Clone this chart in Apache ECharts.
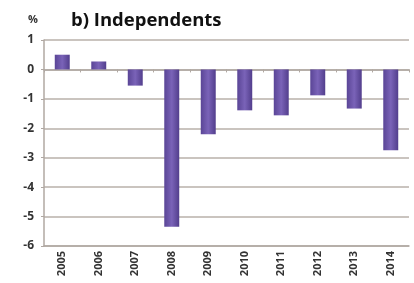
<!DOCTYPE html>
<html><head><meta charset="utf-8">
<script src="https://cdn.jsdelivr.net/npm/echarts@6/dist/echarts.min.js"></script>
<style>html,body{margin:0;padding:0;background:#fff}#c{width:414px;height:283px}</style>
</head><body><div id="c"></div>
<script>
var categories = ['2005','2006','2007','2008','2009','2010','2011','2012','2013','2014'];
var values = [0.5, 0.27, -0.55, -5.35, -2.2, -1.39, -1.56, -0.88, -1.33, -2.75];
var yTicks = {min: -6, max: 1, step: 1};
var titleText = 'b) Independents';
var unitText = '%';

var chart = echarts.init(document.getElementById('c'));
chart.setOption({
  animation: false,
  backgroundColor: '#fff',
  title: [
    {text: titleText, left: 66, top: 6, textStyle: {fontFamily: 'Open Sans', fontWeight: 'bold', fontSize: 18.5, color: '#111'}},
    {text: unitText, left: 23, top: 9, textStyle: {fontFamily: 'Open Sans', fontWeight: 'bold', fontSize: 11, color: '#333'}}
  ],
  grid: {left: 44, right: 5, top: 40, bottom: 37},
  xAxis: [{
    type: 'category', data: categories, position: 'bottom',
    axisLine: {onZero: false, lineStyle: {color: '#b0a8a2', width: 1.5}},
    axisTick: {show: false},
    axisLabel: {rotate: 90, fontFamily: 'Open Sans', fontWeight: 'bold', fontSize: 11, color: '#333', margin: 5}
  }, {
    type: 'category', data: categories, position: 'bottom',
    axisLine: {onZero: true, lineStyle: {color: '#b0a8a2', width: 1.5}},
    axisTick: {show: true, length: 3, lineStyle: {color: '#b0a8a2'}},
    axisLabel: {show: false}
  }],
  yAxis: {
    type: 'value', min: yTicks.min, max: yTicks.max, interval: yTicks.step,
    axisLine: {show: true, lineStyle: {color: '#b0a8a2', width: 1.5}},
    axisTick: {show: true, length: 3, lineStyle: {color: '#b0a8a2'}},
    splitLine: {lineStyle: {color: '#b8b0aa', width: 1.5}},
    axisLabel: {fontFamily: 'Open Sans', fontWeight: 'bold', fontSize: 12, color: '#333', margin: 10}
  },
  series: [{
    type: 'bar', data: values, barWidth: '41%', xAxisIndex: 0,
    itemStyle: {
      color: new echarts.graphic.LinearGradient(0, 0, 1, 0, [
        {offset: 0, color: '#5a4596'},
        {offset: 0.5, color: '#7a63b8'},
        {offset: 1, color: '#523e8c'}
      ])
    }
  }]
});
</script></body></html>
